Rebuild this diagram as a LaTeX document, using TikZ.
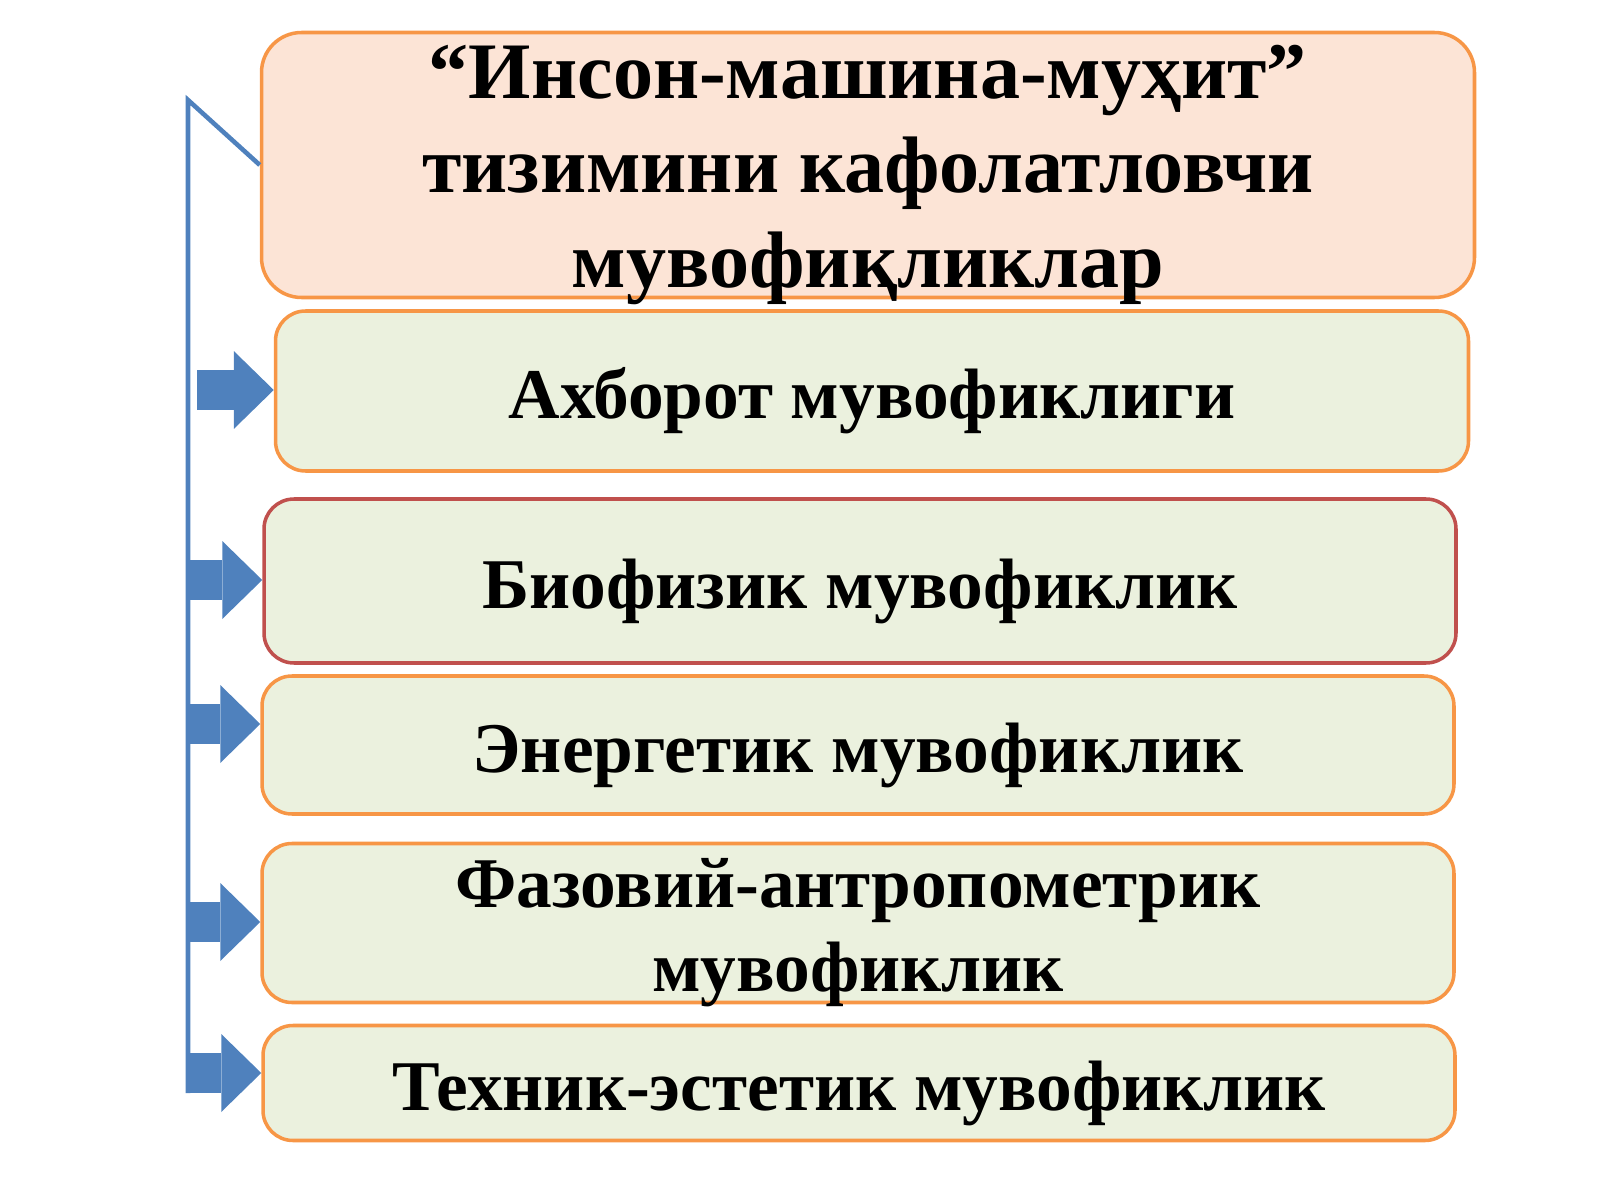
\documentclass[tikz,border=0pt]{standalone}
\usepackage{fontspec}
\setmainfont{Liberation Serif}
\usetikzlibrary{arrows.meta,positioning}
\definecolor{peach}{HTML}{FCE4D6}
\definecolor{pale}{HTML}{EBF1DE}
\definecolor{orng}{HTML}{F79646}
\definecolor{rose}{HTML}{C0504D}
\definecolor{steel}{HTML}{4F81BD}

\begin{document}
\begin{tikzpicture}[x=0.1mm, y=-0.1mm]
\tikzstyle{box} = [draw=orng, line width=1pt, fill=pale, rounded corners=3mm, inner sep=0pt, minimum width=119.2mm]
\tikzstyle{txt} = [align=center, yshift=-1mm, font=\fontsize{20.3}{23.9}\selectfont\bfseries]
\tikzset{feed/.style={draw=steel, line width=4mm, -{Triangle[length=4mm,width=7.8mm,line width=0pt]}}}
\tikzset{bus/.style={draw=steel, line width=1.3pt}}
\useasboundingbox (0,0) rectangle (1600,1200);
\node[box, fill=peach, rounded corners=4mm, minimum width=121.3mm, minimum height=26.5mm,
  label={[txt, font=\fontsize{22.8}{27}\selectfont\bfseries]center:“Инсон-машина-муҳит”\\тизимини кафолатловчи\\мувофиқликлар}] (head) at (868,165) {};
\node[box, minimum width=119.3mm, minimum height=16mm, label={[txt]center:Ахборот мувофиклиги}] (b2) at (872,391) {};
\node[box, draw=rose, minimum height=16.4mm, label={[txt]center:Биофизик мувофиклик}] (b3) at (860,581) {};
\node[box, minimum height=13.8mm, label={[txt]center:Энергетик мувофиклик}] (b4) at (858,745) {};
\node[box, minimum height=15.9mm, label={[txt]center:Фазовий-антропометрик\\мувофиклик}] (b5) at (858,923) {};
\node[box, minimum height=11.5mm, label={[txt]center:Техник-эстетик мувофиклик}] (b6) at (859,1083) {};
\coordinate (top) at (188,100);
\coordinate (bot) at (188,1093);
\draw[bus] (head.west) -- (top) -- (bot);
\coordinate (a2) at (197,390);
\foreach \n/\y in {3/580, 4/724, 5/922, 6/1073}
  \coordinate (a\n) at (188,\y);
\foreach \n in {2,...,6}
  \draw[feed] (a\n) -- (a\n -| b\n.west);
\end{tikzpicture}
\end{document}
